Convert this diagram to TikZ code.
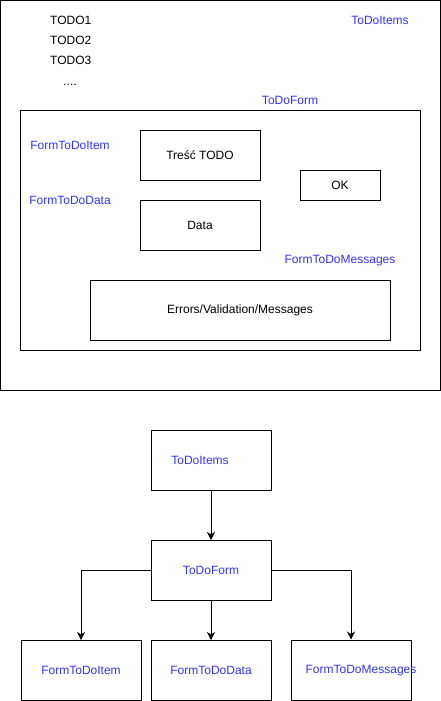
\documentclass[tikz,border=0pt]{standalone}
\usepackage{fontspec}
\setmainfont{Liberation Sans}
\usetikzlibrary{arrows.meta}
\definecolor{lblue}{HTML}{3333FF}
\tikzset{
  box/.style={draw=black, line width=1pt, fill=white, inner sep=0pt, font=\fontsize{12}{14}\selectfont},
  lbl/.style={text=lblue, inner sep=0pt, font=\fontsize{12}{14}\selectfont},
  txt/.style={text=black, inner sep=0pt, font=\fontsize{12}{14}\selectfont},
  conn/.style={draw=black, line width=1pt, -{Stealth[length=8pt,width=8pt,inset=2.5pt]}},
}
\begin{document}
\begin{tikzpicture}[x=1pt,y=-1pt]
\useasboundingbox (0,0) rectangle (441,701);
% top mockup
\node[box, minimum width=440pt, minimum height=390pt] (outer) at (220.5,195.5) {};
\node[txt, anchor=west] (t1) at (50,20.5) {TODO1};
\node[txt, anchor=west] (t2) at (50,40.5) {TODO2};
\node[txt, anchor=west] (t3) at (50,60.5) {TODO3};
\node[txt, anchor=base] (t4) at (70,85) {....};
\node[lbl] (lItems) at (380,20.5) {ToDoItems};
\node[lbl] (lForm) at (290,100.5) {ToDoForm};
\node[box, minimum width=400pt, minimum height=240pt] (inner) at (220,230) {};
\node[lbl] (lItem) at (70,145.5) {FormToDoItem};
\node[lbl] (lData) at (70,200.5) {FormToDoData};
\node[lbl] (lMsg) at (340,260.5) {FormToDoMessages};
\node[box, minimum width=120pt, minimum height=50pt] (tresc) at (200,155.5) {Treść TODO};
\node[box, minimum width=80pt, minimum height=30pt] (ok) at (340,185.5) {OK};
\node[box, minimum width=120pt, minimum height=50pt] (data) at (200,225.5) {Data};
\node[box, minimum width=300pt, minimum height=60pt] (err) at (240,310.5) {Errors/Validation/Messages};
% bottom tree
\node[box, minimum width=120pt, minimum height=60pt] (bItems) at (211,460) {};
\node[lbl] at (200,460.5) {ToDoItems};
\node[box, minimum width=120pt, minimum height=60pt, text=lblue] (bForm) at (211,570.5) {ToDoForm};
\node[box, minimum width=120pt, minimum height=60pt, text=lblue] (bItem) at (81,670.5) {FormToDoItem};
\node[box, minimum width=120pt, minimum height=60pt, text=lblue] (bData) at (211,670.5) {FormToDoData};
\node[box, minimum width=120pt, minimum height=60pt] (bMsg) at (351,670) {};
\node[lbl] at (361,670.5) {FormToDoMessages};
\draw[conn] (bItems.south) -- (bForm.north);
\draw[conn] (bForm.west) -| (bItem.north);
\draw[conn] (bForm.south) -- (bData.north);
\draw[conn] (bForm.east) -| (bMsg.north);
\end{tikzpicture}
\end{document}
